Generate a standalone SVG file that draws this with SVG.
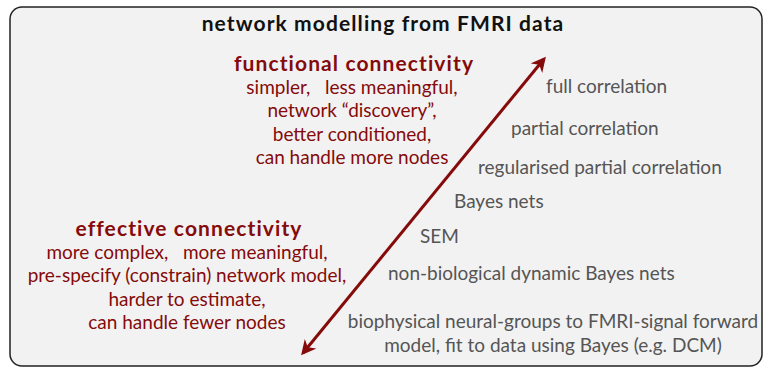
<svg xmlns="http://www.w3.org/2000/svg" width="768" height="370" viewBox="0 0 768 370">
<style>
.t{font-family:Lato,"Open Sans","Liberation Sans",sans-serif;}
.title{font-size:21px;font-weight:bold;letter-spacing:1.1px;fill:#111;text-anchor:middle;}
.h{font-size:21px;font-weight:bold;letter-spacing:1.1px;fill:#850a0a;text-anchor:middle;}
.r{font-size:19px;fill:#850a0a;text-anchor:middle;}
.g{font-size:19px;fill:#555;}
.gc{font-size:19px;fill:#555;text-anchor:middle;}
</style>
<defs>
<marker id="ah" viewBox="0 0 10 10" refX="8" refY="5" markerWidth="5" markerHeight="5" orient="auto-start-reverse" markerUnits="strokeWidth">
<path d="M0,0 L10,5 L0,10 L3,5 z" fill="#850a0a"/>
</marker>
</defs>
<g id="frame">
<rect x="10" y="7" width="752" height="359" rx="12" ry="12" fill="#f2f2f2" stroke="#222" stroke-width="1.5"/>
<text class="t title" x="383" y="31">network modelling from FMRI data</text>
</g>
<g id="functional">
<text class="t h" x="354" y="71">functional connectivity</text>
<text class="t r" x="352" y="94" xml:space="preserve">simpler,   less meaningful,</text>
<text class="t r" x="352" y="117">network “discovery”,</text>
<text class="t r" x="352" y="141">better conditioned,</text>
<text class="t r" x="352" y="164">can handle more nodes</text>
</g>
<g id="effective">
<text class="t h" x="189" y="236">effective connectivity</text>
<text class="t r" x="187" y="259" xml:space="preserve">more complex,   more meaningful,</text>
<text class="t r" x="187" y="282">pre-specify (constrain) network model,</text>
<text class="t r" x="187" y="306">harder to estimate,</text>
<text class="t r" x="187" y="329">can handle fewer nodes</text>
</g>
<g id="methods">
<text class="t g" x="546" y="93">full correlation</text>
<text class="t g" x="511" y="135">partial correlation</text>
<text class="t g" x="478" y="174">regularised partial correlation</text>
<text class="t g" x="454" y="208">Bayes nets</text>
<text class="t g" x="420" y="243">SEM</text>
<text class="t g" x="388" y="280">non-biological dynamic Bayes nets</text>
<text class="t gc" x="553" y="328">biophysical neural-groups to FMRI-signal forward</text>
<text class="t gc" x="553" y="352">model, fit to data using Bayes (e.g. DCM)</text>
</g>
<g id="connectors">
<line x1="303" y1="353" x2="544" y2="59" stroke="#850a0a" stroke-width="3" marker-start="url(#ah)" marker-end="url(#ah)"/>
</g>
</svg>
